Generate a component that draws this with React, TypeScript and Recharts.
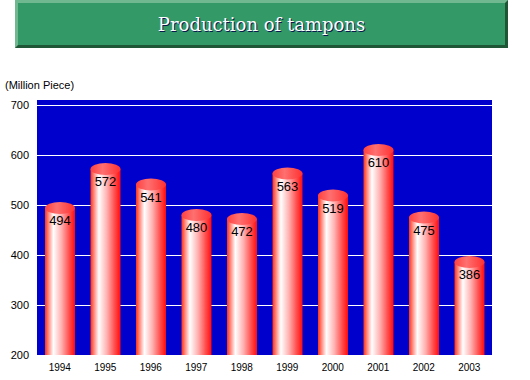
import { BarChart, Bar, XAxis, YAxis, CartesianGrid, LabelList } from 'recharts';

const YEARS = ['1994', '1995', '1996', '1997', '1998', '1999', '2000', '2001', '2002', '2003'];
const PRODUCTION = [494, 572, 541, 480, 472, 563, 519, 610, 475, 386];
const Y_TICKS = [200, 300, 400, 500, 600, 700];
const GRID_VALUES = [300, 400, 500, 600, 700];

const data = YEARS.map((year, i) => ({ year, value: PRODUCTION[i] }));

// cylinder bar: gradient body, elliptical top cap, rounded bottom below the axis
function Cylinder(props: any) {
  const { x, y, width, height } = props;
  if (width == null || height == null) return null;
  const rx = width / 2;
  const ry = 6;
  const cx = x + rx;
  const bottom = y + height;
  return (
    <g>
      <ellipse cx={cx + 4} cy={bottom + 4} rx={rx} ry={ry} fill="rgba(60,60,60,0.55)" />
      <path
        d={`M${x},${y} L${x + width},${y} L${x + width},${bottom} A${rx},${ry} 0 0 1 ${x},${bottom} Z`}
        fill="url(#cylBody)"
      />
      <ellipse cx={cx} cy={y} rx={rx} ry={ry} fill="url(#cylTop)" />
    </g>
  );
}

export default function App() {
  return (
    <div style={{ position: 'absolute', left: 0, top: 0, width: 530, height: 380, background: '#fff' }}>
      {/* ── Title banner ── */}
      <div
        style={{
          position: 'absolute',
          left: 15,
          top: 0,
          width: 493,
          height: 48,
          boxSizing: 'border-box',
          background: '#339966',
          borderTop: '3px solid #70b890',
          borderLeft: '3px solid #70b890',
          borderBottom: '3px solid #1e5636',
          borderRight: '3px solid #1e5636',
          display: 'flex',
          alignItems: 'center',
          justifyContent: 'center',
          color: '#fff',
          fontFamily: '"DejaVu Serif", serif',
          fontSize: 18,
          textShadow: '1px 1px 0 #0a1a50',
        }}
      >
        Production of tampons
      </div>

      <div
        style={{
          position: 'absolute',
          left: 5,
          top: 79,
          fontFamily: '"Liberation Sans", Arial, sans-serif',
          fontSize: 11,
          color: '#000',
        }}
      >
        (Million Piece)
      </div>

      <BarChart
        width={530}
        height={380}
        data={data}
        margin={{ top: 100, right: 38, bottom: 0, left: 0 }}
        style={{ position: 'absolute', left: 0, top: 0 }}
      >
        <defs>
          <linearGradient id="cylBody" x1="0" y1="0" x2="1" y2="0">
            <stop offset="0%" stopColor="#ff3010" />
            <stop offset="12%" stopColor="#ff8a80" />
            <stop offset="28%" stopColor="#ffffff" />
            <stop offset="55%" stopColor="#ffb0b0" />
            <stop offset="80%" stopColor="#ff5050" />
            <stop offset="100%" stopColor="#ff0a0a" />
          </linearGradient>
          <linearGradient id="cylTop" x1="0" y1="0" x2="1" y2="0">
            <stop offset="0%" stopColor="#ff4040" />
            <stop offset="40%" stopColor="#ff7070" />
            <stop offset="100%" stopColor="#ff3030" />
          </linearGradient>
        </defs>
        <CartesianGrid
          fill="#0000cc"
          fillOpacity={1}
          stroke="#ffffff"
          strokeOpacity={1}
          strokeWidth={1}
          shapeRendering="crispEdges"
          vertical={false}
          horizontalValues={GRID_VALUES}
        />
        <XAxis
          dataKey="year"
          height={25}
          axisLine={false}
          tickLine={false}
          tickMargin={3}
          tick={{ fontSize: 10, fill: '#000', fontFamily: '"Liberation Sans", Arial, sans-serif' }}
        />
        <YAxis
          width={37}
          domain={[200, 710]}
          ticks={Y_TICKS}
          allowDataOverflow
          axisLine={false}
          tickLine={false}
          tick={{ fontSize: 11, fill: '#000', fontFamily: '"Liberation Sans", Arial, sans-serif' }}
        />
        <Bar dataKey="value" barSize={30} shape={<Cylinder />} isAnimationActive={false}>
          <LabelList
            dataKey="value"
            position="insideTop"
            offset={8}
            fill="#000"
            style={{ fontSize: 13, fontFamily: '"Liberation Sans", Arial, sans-serif' }}
          />
        </Bar>
      </BarChart>
    </div>
  );
}
